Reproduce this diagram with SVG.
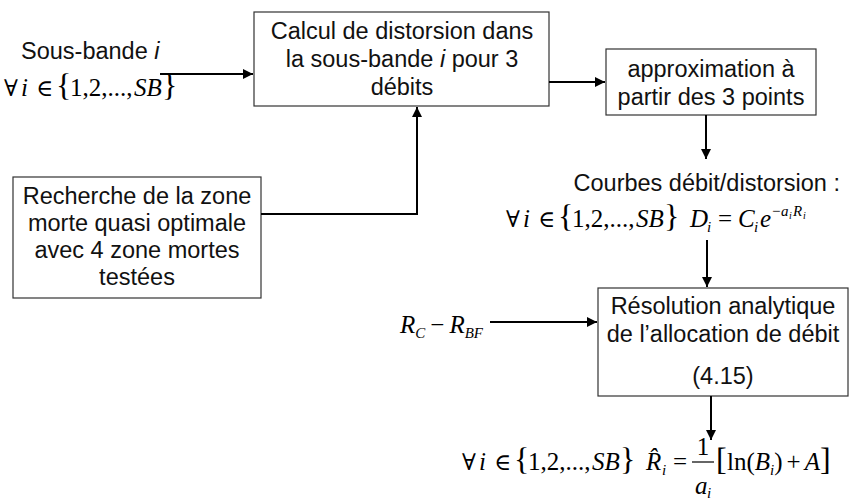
<svg xmlns="http://www.w3.org/2000/svg" width="850" height="500" viewBox="0 0 850 500">
<defs>
<style>
.box{fill:#fff;stroke:#333;stroke-width:1.2}
.t{font-family:"Liberation Sans",Arial,sans-serif;font-size:23.5px;fill:#111;text-anchor:middle}
.tl{font-family:"Liberation Sans",Arial,sans-serif;font-size:23.5px;fill:#111}
.m{font-family:"Liberation Serif","Times New Roman",serif;font-size:25px;fill:#000}
.sy{font-family:"DejaVu Serif",serif;font-size:23px}
.it{font-style:italic}
.br{font-size:32px}
.sub{font-size:15px;font-style:italic}
.c{fill:none;stroke:#000;stroke-width:2}
</style>
<marker id="ah" viewBox="0 0 10 10" refX="10" refY="5" markerWidth="5" markerHeight="5" markerUnits="strokeWidth" orient="auto">
<path d="M0,0 L10,5 L0,10 z" fill="#000"/>
</marker>
</defs>

<g id="input">
<text class="tl" x="21" y="59">Sous-bande <tspan font-style="italic">i</tspan></text>
<text class="m" y="96"><tspan x="4" class="sy">∀</tspan><tspan x="21" class="it">i</tspan><tspan x="36" class="sy">∈</tspan><tspan x="56" class="br">{</tspan><tspan x="70">1,2,...,</tspan><tspan x="134" class="it">SB</tspan><tspan x="162" class="br">}</tspan></text>
</g>

<g id="calcul">
<rect class="box" x="254" y="12" width="295" height="94"/>
<text class="t" x="402" y="39">Calcul de distorsion dans</text>
<text class="t" x="402" y="67">la sous-bande <tspan font-style="italic">i</tspan> pour 3</text>
<text class="t" x="402" y="95">débits</text>
</g>

<g id="approx">
<rect class="box" x="606" y="49" width="210" height="66"/>
<text class="t" x="711" y="77">approximation à</text>
<text class="t" x="711" y="105">partir des 3 points</text>
</g>

<g id="recherche">
<rect class="box" x="13" y="177" width="248" height="121"/>
<text class="t" x="137" y="204">Recherche de la zone</text>
<text class="t" x="137" y="231">morte quasi optimale</text>
<text class="t" x="137" y="258">avec 4 zone mortes</text>
<text class="t" x="137" y="285">testées</text>
</g>

<g id="courbes">
<text class="tl" x="840" y="191" text-anchor="end">Courbes débit/distorsion :</text>
<text class="m" y="227"><tspan x="506" class="sy">∀</tspan><tspan x="523" class="it">i</tspan><tspan x="538" class="sy">∈</tspan><tspan x="558" class="br">{</tspan><tspan x="572">1,2,...,</tspan><tspan x="636" class="it">SB</tspan><tspan x="664" class="br">}</tspan><tspan x="690" class="it">D</tspan><tspan x="707" class="sub" dy="5">i</tspan><tspan x="718" dy="-5">=</tspan><tspan x="738" class="it">C</tspan><tspan x="754" class="sub" dy="5">i</tspan><tspan x="760" class="it" dy="-5">e</tspan><tspan x="772" font-size="15" dy="-11">−</tspan><tspan x="781" class="sub">a</tspan><tspan x="789" font-size="10" font-style="italic" dy="3">i</tspan><tspan x="793" class="sub" dy="-3">R</tspan><tspan x="803" font-size="10" font-style="italic" dy="3">i</tspan></text>
</g>

<g id="rc">
<text class="m" y="333" font-size="27"><tspan x="400" class="it">R</tspan><tspan class="sub" dy="5">C</tspan><tspan dx="5" dy="-5">−</tspan><tspan dx="5" class="it">R</tspan><tspan class="sub" dy="5">BF</tspan></text>
</g>

<g id="resolution">
<rect class="box" x="598" y="288" width="250" height="108"/>
<text class="t" x="723" y="314">Résolution analytique</text>
<text class="t" x="723" y="342">de l’allocation de débit</text>
<text class="t" x="723" y="384">(4.15)</text>
</g>

<g id="result">
<text class="m" y="470"><tspan x="462" class="sy">∀</tspan><tspan x="479" class="it">i</tspan><tspan x="494" class="sy">∈</tspan><tspan x="514" class="br">{</tspan><tspan x="528">1,2,...,</tspan><tspan x="592" class="it">SB</tspan><tspan x="620" class="br">}</tspan></text>
<text class="m" y="470"><tspan x="646" class="it">R̂</tspan><tspan x="662" class="sub" dy="5">i</tspan><tspan x="673" dy="-5">=</tspan></text>
<text class="m" x="703" y="455" text-anchor="middle">1</text>
<line x1="692" y1="462" x2="714" y2="462" stroke="#000" stroke-width="1.2"/>
<text class="m" y="494"><tspan x="695" class="it">a</tspan><tspan x="707" class="sub" dy="4">i</tspan></text>
<text class="m" y="470"><tspan x="716" class="br">[</tspan><tspan x="727">ln(</tspan><tspan class="it">B</tspan><tspan class="sub" dy="5">i</tspan><tspan dy="-5">)</tspan><tspan dx="4">+</tspan><tspan dx="4" class="it">A</tspan><tspan class="br">]</tspan></text>
</g>

<g id="connectors">
<path class="c" d="M160,74 H253" marker-end="url(#ah)"/>
<path class="c" d="M549,82 H605" marker-end="url(#ah)"/>
<path class="c" d="M706,115 V159" marker-end="url(#ah)"/>
<path class="c" d="M261,214 H417 V107" marker-end="url(#ah)"/>
<path class="c" d="M707,240 V287" marker-end="url(#ah)"/>
<path class="c" d="M490,322 H597" marker-end="url(#ah)"/>
<path class="c" d="M711,396 V440" marker-end="url(#ah)"/>
</g>
</svg>
